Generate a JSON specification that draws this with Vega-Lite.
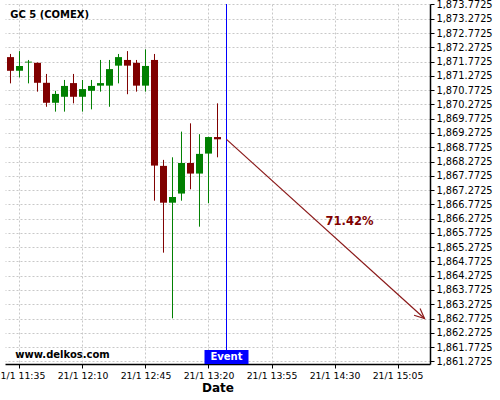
{
  "$schema": "https://vega.github.io/schema/vega-lite/v6.json",
  "width": 425,
  "height": 360,
  "autosize": {"type": "none"},
  "padding": {"left": 5, "top": 4, "right": 70, "bottom": 36},
  "background": "white",
  "config": {
    "view": {"stroke": null},
    "font": "DejaVu Sans",
    "axis": {
      "labelFont": "DejaVu Sans",
      "labelFontSize": 10,
      "labelColor": "#000000",
      "labelOverlap": false,
      "domainColor": "#000000",
      "domainWidth": 1.5,
      "tickColor": "#000000",
      "tickSize": 4,
      "gridColor": "#c8c8c8",
      "gridDash": [2, 2],
      "gridWidth": 1,
      "titleFont": "DejaVu Sans",
      "titleFontWeight": "bold",
      "titleFontSize": 12,
      "titleColor": "#000000"
    }
  },
  "datasets": {
    "candles": [
      {"t": "2021-01-21T11:30:00", "open": 1871.93, "high": 1872.04, "low": 1871.01, "close": 1871.45},
      {"t": "2021-01-21T11:35:00", "open": 1871.45, "high": 1872.14, "low": 1871.22, "close": 1871.62},
      {"t": "2021-01-21T11:40:00", "open": 1871.74, "high": 1871.83, "low": 1871.01, "close": 1871.77},
      {"t": "2021-01-21T11:45:00", "open": 1871.73, "high": 1871.74, "low": 1870.72, "close": 1871.03},
      {"t": "2021-01-21T11:50:00", "open": 1871.03, "high": 1871.34, "low": 1870.19, "close": 1870.33},
      {"t": "2021-01-21T11:55:00", "open": 1870.33, "high": 1870.75, "low": 1870.02, "close": 1870.64},
      {"t": "2021-01-21T12:00:00", "open": 1870.54, "high": 1871.13, "low": 1870.02, "close": 1870.92},
      {"t": "2021-01-21T12:05:00", "open": 1871.02, "high": 1871.34, "low": 1870.31, "close": 1870.54},
      {"t": "2021-01-21T12:10:00", "open": 1870.54, "high": 1871.13, "low": 1870.02, "close": 1870.81},
      {"t": "2021-01-21T12:15:00", "open": 1870.75, "high": 1871.13, "low": 1870.10, "close": 1870.92},
      {"t": "2021-01-21T12:20:00", "open": 1870.93, "high": 1871.83, "low": 1870.72, "close": 1871.02},
      {"t": "2021-01-21T12:25:00", "open": 1870.93, "high": 1871.83, "low": 1870.19, "close": 1871.51},
      {"t": "2021-01-21T12:30:00", "open": 1871.63, "high": 1872.04, "low": 1871.01, "close": 1871.93},
      {"t": "2021-01-21T12:35:00", "open": 1871.83, "high": 1872.14, "low": 1870.63, "close": 1871.63},
      {"t": "2021-01-21T12:40:00", "open": 1871.73, "high": 1871.83, "low": 1870.72, "close": 1870.93},
      {"t": "2021-01-21T12:45:00", "open": 1870.93, "high": 1872.20, "low": 1870.72, "close": 1871.62},
      {"t": "2021-01-21T12:50:00", "open": 1871.83, "high": 1872.04, "low": 1866.90, "close": 1868.13},
      {"t": "2021-01-21T12:55:00", "open": 1868.12, "high": 1868.33, "low": 1865.08, "close": 1866.83},
      {"t": "2021-01-21T13:00:00", "open": 1866.83, "high": 1868.42, "low": 1862.78, "close": 1867.03},
      {"t": "2021-01-21T13:05:00", "open": 1867.15, "high": 1869.32, "low": 1866.90, "close": 1868.22},
      {"t": "2021-01-21T13:10:00", "open": 1868.22, "high": 1869.61, "low": 1867.30, "close": 1867.85},
      {"t": "2021-01-21T13:15:00", "open": 1867.85, "high": 1869.23, "low": 1865.99, "close": 1868.54},
      {"t": "2021-01-21T13:20:00", "open": 1868.55, "high": 1869.14, "low": 1866.81, "close": 1869.13},
      {"t": "2021-01-21T13:25:00", "open": 1869.13, "high": 1870.31, "low": 1868.42, "close": 1869.05}
    ],
    "forecast": [
      {"t": "2021-01-21T13:30:00", "value": 1869.05},
      {"t": "2021-01-21T15:20:00", "value": 1862.7725}
    ],
    "arrowhead": [
      {"t": "2021-01-21T15:20:00", "value": 1862.7725}
    ],
    "event": [
      {"t": "2021-01-21T13:30:00", "label": "Event", "top": 1861.67, "bottom": 1861.18, "labelY": 1861.43}
    ],
    "notes": [
      {"t": "2021-01-21T14:38:20", "value": 1866.16, "text": "71.42%"}
    ],
    "captions": [
      {"t": "2021-01-21T11:29:50", "value": 1873.39, "text": "GC 5 (COMEX)"},
      {"t": "2021-01-21T11:32:40", "value": 1861.51, "text": "www.delkos.com"}
    ]
  },
  "layer": [
    {
      "data": {"name": "candles"},
      "mark": {"type": "rule", "strokeWidth": 1},
      "encoding": {
        "x": {
          "field": "t", "type": "temporal",
          "scale": {"domain": [{"year": 2021, "month": 1, "date": 21, "hours": 11, "minutes": 26, "seconds": 57}, {"year": 2021, "month": 1, "date": 21, "hours": 15, "minutes": 23, "seconds": 3}], "nice": false, "padding": 0},
          "axis": {
            "title": "Date",
            "titlePadding": 2,
            "labelPadding": 3,
            "labelFontSize": 9.3,
            "labelOverlap": false,
            "tickCount": 20,
            "format": "%d/%-m %H:%M",
            "grid": true,
            "values": [
              {"year": 2021, "month": 1, "date": 21, "hours": 11, "minutes": 35},
              {"year": 2021, "month": 1, "date": 21, "hours": 12, "minutes": 10},
              {"year": 2021, "month": 1, "date": 21, "hours": 12, "minutes": 45},
              {"year": 2021, "month": 1, "date": 21, "hours": 13, "minutes": 20},
              {"year": 2021, "month": 1, "date": 21, "hours": 13, "minutes": 55},
              {"year": 2021, "month": 1, "date": 21, "hours": 14, "minutes": 30},
              {"year": 2021, "month": 1, "date": 21, "hours": 15, "minutes": 5}
            ]
          }
        },
        "y": {
          "field": "low", "type": "quantitative",
          "scale": {"domain": [1861.18, 1873.79], "nice": false, "zero": false, "padding": 0},
          "axis": {
            "orient": "right",
            "title": null,
            "format": ",.4f",
            "labelPadding": 2,
            "labelFontSize": 9.8,
            "labelOverlap": false,
            "tickCount": 40,
            "grid": true,
            "values": [1861.2725, 1861.7725, 1862.2725, 1862.7725, 1863.2725, 1863.7725, 1864.2725, 1864.7725, 1865.2725, 1865.7725, 1866.2725, 1866.7725, 1867.2725, 1867.7725, 1868.2725, 1868.7725, 1869.2725, 1869.7725, 1870.2725, 1870.7725, 1871.2725, 1871.7725, 1872.2725, 1872.7725, 1873.2725, 1873.7725]
          }
        },
        "y2": {"field": "high"},
        "color": {"condition": {"test": "datum.close >= datum.open", "value": "#008000"}, "value": "#800000"}
      }
    },
    {
      "data": {"name": "candles"},
      "mark": {"type": "bar", "width": 7},
      "encoding": {
        "x": {"field": "t", "type": "temporal"},
        "y": {"field": "open", "type": "quantitative"},
        "y2": {"field": "close"},
        "color": {"condition": {"test": "datum.close >= datum.open", "value": "#008000"}, "value": "#800000"}
      }
    },
    {
      "data": {"name": "event"},
      "mark": {"type": "rule", "color": "#0000ff", "strokeWidth": 1},
      "encoding": {
        "x": {"field": "t", "type": "temporal"}
      }
    },
    {
      "data": {"name": "forecast"},
      "mark": {"type": "line", "color": "#8b1a1a", "strokeWidth": 1.2},
      "encoding": {
        "x": {"field": "t", "type": "temporal"},
        "y": {"field": "value", "type": "quantitative"}
      }
    },
    {
      "data": {"name": "arrowhead"},
      "mark": {"type": "point", "shape": "M-1,-0.45L0,0L-1,0.45", "filled": false, "stroke": "#8b1a1a", "strokeWidth": 1.2, "size": 400, "angle": 41.9, "opacity": 1},
      "encoding": {
        "x": {"field": "t", "type": "temporal"},
        "y": {"field": "value", "type": "quantitative"}
      }
    },
    {
      "data": {"name": "notes"},
      "mark": {"type": "text", "font": "DejaVu Sans", "fontWeight": "bold", "fontSize": 11.5, "color": "#800000", "align": "center", "baseline": "middle"},
      "encoding": {
        "x": {"field": "t", "type": "temporal"},
        "y": {"field": "value", "type": "quantitative"},
        "text": {"field": "text"}
      }
    },
    {
      "data": {"name": "event"},
      "mark": {"type": "bar", "width": 44, "color": "#0000ff"},
      "encoding": {
        "x": {"field": "t", "type": "temporal"},
        "y": {"field": "top", "type": "quantitative"},
        "y2": {"field": "bottom"}
      }
    },
    {
      "data": {"name": "event"},
      "mark": {"type": "text", "font": "DejaVu Sans", "fontWeight": "bold", "fontSize": 10, "color": "#ffffff", "align": "center", "baseline": "middle"},
      "encoding": {
        "x": {"field": "t", "type": "temporal"},
        "y": {"field": "labelY", "type": "quantitative"},
        "text": {"field": "label"}
      }
    },
    {
      "data": {"name": "captions"},
      "mark": {"type": "text", "font": "DejaVu Sans", "fontWeight": "bold", "fontSize": 10, "color": "#000000", "align": "left", "baseline": "middle"},
      "encoding": {
        "x": {"field": "t", "type": "temporal"},
        "y": {"field": "value", "type": "quantitative"},
        "text": {"field": "text"}
      }
    }
  ]
}
